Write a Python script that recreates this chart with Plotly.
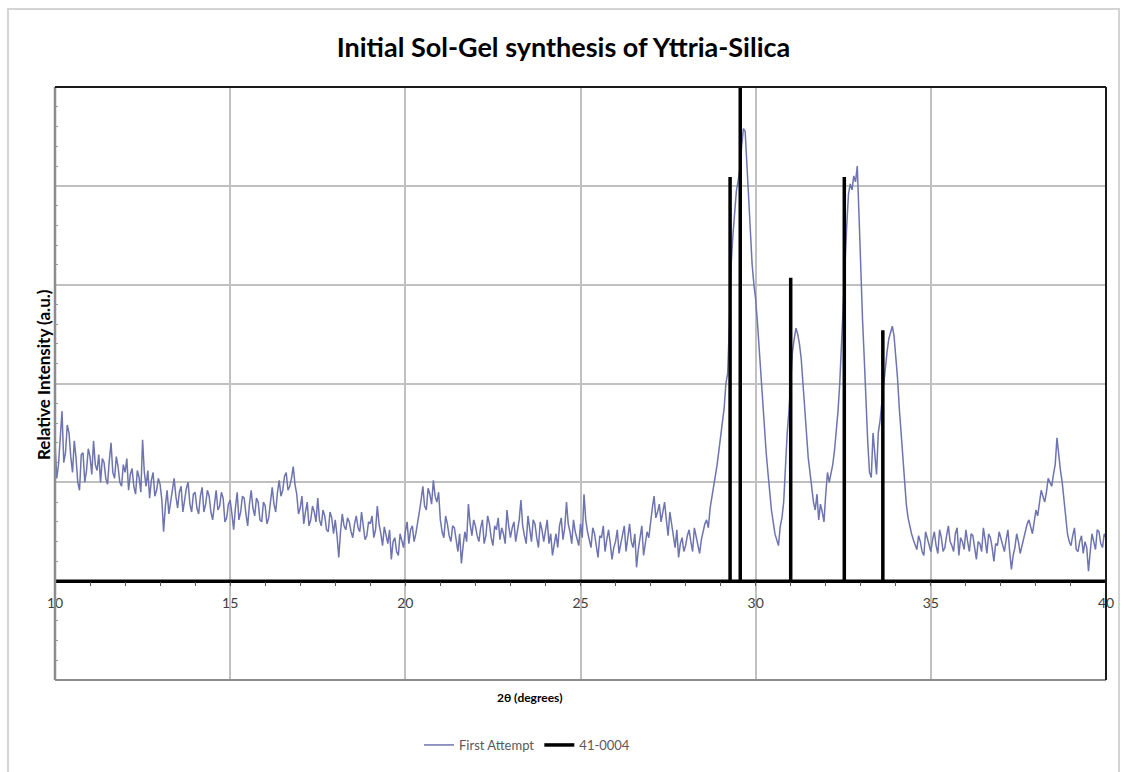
import numpy as np
import plotly.graph_objects as go

# ---------------- data ----------------
two_theta = np.round(np.arange(10.0, 40.025, 0.05), 2)

first_attempt = [
    140, 104, 118, 150, 172, 120, 130, 158, 150, 126, 110, 142, 125, 100, 92, 128, 130, 100, 112, 134,   # 10
    126, 108, 142, 118, 112, 128, 100, 124, 120, 104, 98, 122, 140, 110, 104, 126, 116, 100, 96, 118,    # 11
    110, 124, 92, 108, 114, 96, 88, 112, 105, 90, 143, 110, 96, 112, 84, 102, 110, 86, 92, 104,          # 12
    98, 82, 50, 76, 92, 68, 80, 96, 104, 86, 74, 90, 96, 70, 82, 94, 100, 78, 70, 88,                    # 13
    90, 74, 68, 86, 95, 70, 78, 92, 86, 70, 62, 80, 92, 72, 76, 90, 84, 60, 64, 78,                      # 14
    82, 68, 52, 74, 90, 62, 70, 86, 84, 68, 56, 78, 92, 74, 66, 84, 80, 62, 60, 80,                      # 15
    76, 58, 64, 80, 95, 78, 70, 90, 102, 86, 92, 106, 110, 92, 96, 104, 116, 98, 88, 68,                 # 16
    74, 86, 58, 70, 80, 56, 62, 76, 70, 60, 84, 62, 56, 72, 66, 52, 50, 70, 64, 48,                      # 17
    62, 46, 24, 50, 68, 56, 52, 64, 60, 50, 44, 58, 66, 54, 50, 70, 58, 42, 46, 60,                      # 18
    58, 66, 44, 52, 76, 58, 48, 36, 55, 46, 38, 52, 22, 40, 44, 30, 26, 48, 40, 34,                      # 19
    50, 60, 38, 52, 56, 40, 48, 62, 70, 82, 96, 76, 72, 94, 88, 78, 102, 86, 80, 90,                     # 20
    62, 50, 44, 66, 58, 46, 40, 56, 54, 42, 30, 48, 18, 36, 50, 40, 78, 58, 46, 62,                      # 21
    56, 46, 40, 54, 62, 38, 46, 66, 58, 44, 36, 56, 52, 64, 42, 54, 48, 38, 72, 56,                      # 22
    44, 54, 60, 40, 50, 62, 82, 56, 46, 38, 66, 50, 40, 62, 58, 44, 34, 60, 52, 40,                      # 23
    50, 62, 38, 48, 26, 40, 48, 34, 56, 64, 42, 54, 80, 58, 50, 38, 62, 50, 44, 36,                      # 24
    58, 44, 88, 62, 50, 40, 34, 54, 48, 36, 24, 46, 44, 56, 30, 42, 52, 38, 22, 34,                      # 25
    40, 52, 28, 38, 46, 56, 30, 44, 58, 40, 34, 48, 14, 32, 42, 56, 26, 40, 50, 44,                      # 26
    62, 74, 86, 64, 70, 78, 60, 72, 80, 62, 46, 70, 58, 44, 34, 52, 24, 38, 44, 30,                      # 27
    36, 46, 52, 40, 30, 54, 44, 36, 28, 42, 50, 58, 62, 54, 74, 84, 96, 104, 118, 132,                   # 28
    145, 160, 175, 200, 210, 260, 320, 350, 370, 395, 405, 418, 440, 458, 455, 420, 380, 350, 320, 300,  # 29
    285, 262, 235, 205, 175, 150, 130, 110, 90, 72, 60, 48, 42, 36, 55, 64, 80, 120, 150, 172,           # 30
    200, 232, 245, 256, 250, 240, 225, 200, 170, 148, 125, 110, 95, 80, 72, 88, 62, 78, 70, 60,          # 31
    88, 110, 100, 108, 118, 132, 150, 172, 200, 240, 290, 330, 360, 392, 402, 396, 410, 404, 420, 370,   # 32
    310, 265, 225, 180, 140, 110, 105, 150, 125, 108, 150, 162, 180, 200, 215, 232, 245, 252, 258, 248,  # 33
    230, 205, 175, 150, 128, 100, 78, 64, 55, 48, 42, 36, 32, 46, 40, 30, 26, 50, 44, 36,                # 34
    30, 42, 50, 36, 28, 52, 44, 30, 34, 46, 56, 40, 36, 30, 48, 54, 26, 44, 40, 32,                      # 35
    52, 40, 30, 48, 46, 34, 22, 40, 38, 30, 54, 42, 28, 48, 44, 34, 20, 38, 36, 50,                      # 36
    44, 36, 30, 42, 52, 30, 12, 26, 34, 48, 40, 28, 36, 44, 50, 58, 62, 54, 48, 60,                      # 37
    72, 66, 78, 92, 86, 80, 90, 104, 100, 96, 108, 118, 145, 124, 112, 100, 80, 60, 48, 40,              # 38
    36, 46, 54, 32, 30, 40, 46, 28, 40, 34, 10, 30, 48, 40, 32, 52, 50, 38, 34, 48,                      # 39
    44,                                                                                                  # 40
]

ref_positions = [29.27, 29.56, 31.00, 32.53, 33.63]
ref_heights = [409, 500, 307, 409, 254]

x_range = [10, 40]
y_range = [-100, 500]

# stick pattern for the reference card
stick_x = [x_range[0]]
stick_y = [0]
for p, h in zip(ref_positions, ref_heights):
    stick_x += [p, p, p]
    stick_y += [0, h, 0]
stick_x.append(x_range[1])
stick_y.append(0)

FONT = "Lato"

fig = go.Figure()
fig.add_trace(go.Scatter(
    x=two_theta, y=first_attempt, mode="lines", name="First Attempt",
    line=dict(color="#6E74B0", width=1.5),
))
fig.add_trace(go.Scatter(
    x=stick_x, y=stick_y, mode="lines", name="41-0004",
    line=dict(color="#000000", width=3.5),
))

W, H = 1127, 772
L, R, T, B = 55, 1106, 87, 680
pw, ph = R - L, B - T


def px(xp):
    return (xp - L) / pw


def py(yp):
    return (B - yp) / ph


fig.update_layout(
    width=W, height=H,
    margin=dict(l=L, r=W - R, t=T, b=H - B, pad=0),
    paper_bgcolor="white", plot_bgcolor="white",
    font=dict(family=FONT, size=12, color="#404040"),
    title=dict(text="<b>Initial Sol-Gel synthesis of Yttria-Silica</b>",
               x=0.5, xanchor="center", y=1 - 48 / H, yanchor="middle",
               font=dict(family=FONT, size=27, color="#000000")),
    showlegend=True,
    legend=dict(orientation="h", x=px(527), xanchor="center",
                y=py(745), yanchor="middle",
                font=dict(family=FONT, size=13, color="#595959"),
                bgcolor="rgba(0,0,0,0)", itemwidth=30),
    xaxis=dict(range=x_range, dtick=5, tick0=10, showgrid=True,
               gridcolor="#c0c0c0", gridwidth=1.5,
               anchor="free", position=(0 - y_range[0]) / (y_range[1] - y_range[0]),
               showline=False, zeroline=False,
               ticks="outside", ticklen=4, tickcolor="#555555",
               ticklabelstandoff=5,
               tickfont=dict(family=FONT, size=14, color="#404040"),
               minor=dict(dtick=1, ticks="outside", ticklen=4,
                          tickcolor="#555555", showgrid=False)),
    yaxis=dict(range=y_range, dtick=100, showgrid=True,
               gridcolor="#c0c0c0", gridwidth=1.5,
               showticklabels=False, zeroline=False, showline=False,
               ticks="", minor=dict(dtick=20, ticks="inside", ticklen=3,
                                    tickcolor="#999999", showgrid=False)),
)

shapes = [
    # outer chart frame
    dict(type="rect", xref="paper", yref="paper",
         x0=px(8), x1=px(1119), y0=py(795), y1=py(9),
         line=dict(color="#d4d4d4", width=2), layer="below"),
    # plot frame
    dict(type="line", xref="paper", yref="paper", x0=0, x1=0, y0=0, y1=1,
         line=dict(color="#8c8c8c", width=2.5)),
    dict(type="line", xref="paper", yref="paper", x0=0, x1=1, y0=0, y1=0,
         line=dict(color="#8c8c8c", width=2)),
    dict(type="line", xref="paper", yref="paper", x0=0, x1=1, y0=1, y1=1,
         line=dict(color="#1a1a1a", width=2)),
    dict(type="line", xref="paper", yref="paper", x0=1, x1=1, y0=0, y1=1,
         line=dict(color="#1a1a1a", width=2)),
]
fig.update_layout(shapes=shapes)

fig.add_annotation(text="<b>Relative Intensity (a.u.)</b>", xref="paper", yref="paper",
                   x=px(43), y=py(375), textangle=-90, showarrow=False,
                   xanchor="center", yanchor="middle",
                   font=dict(family=FONT, size=17, color="#000000"))
fig.add_annotation(text="<b>2θ (degrees)</b>", xref="paper", yref="paper",
                   x=px(530), y=py(697), showarrow=False,
                   xanchor="center", yanchor="middle",
                   font=dict(family=FONT, size=12, color="#000000"))

fig.write_html("out.html")
